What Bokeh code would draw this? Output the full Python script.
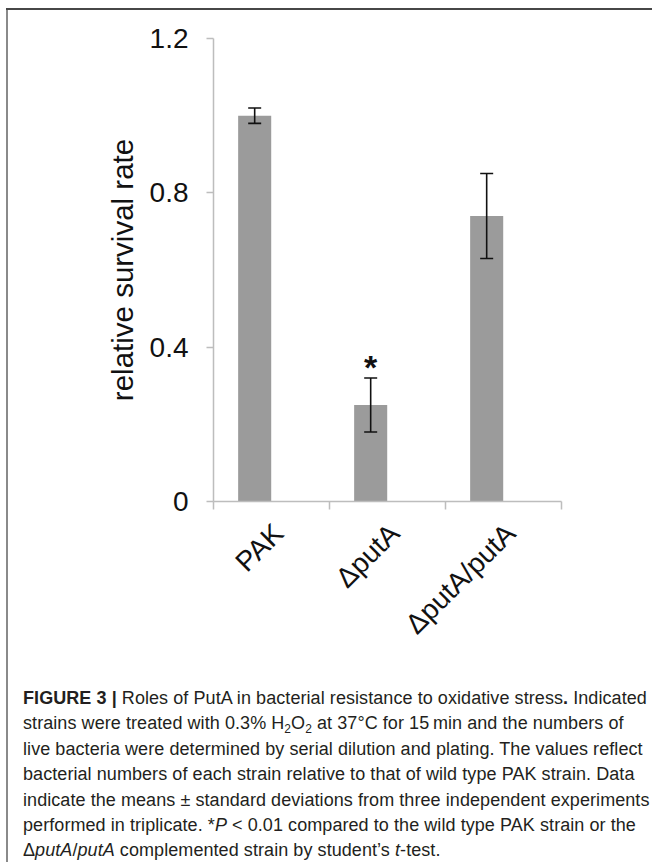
import numpy as np
from bokeh.plotting import figure
from bokeh.models import (Range1d, FixedTicker, Whisker, TeeHead, ColumnDataSource, Div,
                          LinearAxis)
from bokeh.layouts import column, row
from bokeh.core.properties import value
from bokeh.embed import file_html
from bokeh.resources import INLINE

# ---- data ----
categories = ["PAK", "\u0394putA", "\u0394putA/putA"]
survival = [1.00, 0.25, 0.74]
sd = [0.02, 0.07, 0.11]
significance = ["", "*", ""]
y_ticks = [0, 0.4, 0.8, 1.2]
y_tick_labels = ["0", "0.4", "0.8", "1.2"]

FONT = "Liberation Sans"
BAR_COLOR = "#9b9b9b"
AXIS_COLOR = "#bdbdbd"
TEXT_COLOR = "#111111"

n = len(categories)
idx = np.arange(n)
BAR_SHIFT = 0.355       # bars sit left of each category slot (as in the original)
BAR_WIDTH = 0.285
LABEL_SHIFT = 0.56      # slanted labels end a little right of the slot centre

src = ColumnDataSource(dict(
    x=idx + BAR_SHIFT,
    top=survival,
    upper=[v + e for v, e in zip(survival, sd)],
    lower=[v - e for v, e in zip(survival, sd)],
    sig=significance,
))

p = figure(width=644, height=676, x_range=Range1d(0, n), y_range=Range1d(0, 1.2),
           output_backend="svg", toolbar_location=None,
           min_border_left=205, min_border_right=91, min_border_top=28, min_border_bottom=185)
p.outline_line_color = None
p.grid.visible = False
p.background_fill_color = "white"
p.border_fill_color = "white"

p.vbar(x="x", top="top", width=BAR_WIDTH, source=src, fill_color=BAR_COLOR, line_color=None)

whisk = Whisker(base="x", upper="upper", lower="lower", source=src, level="overlay",
                line_color=TEXT_COLOR, line_width=1.6,
                upper_head=TeeHead(size=13, line_width=1.6, line_color=TEXT_COLOR),
                lower_head=TeeHead(size=13, line_width=1.6, line_color=TEXT_COLOR))
p.add_layout(whisk)

p.text(x="x", y="upper", text="sig", source=src, text_align="center",
       text_baseline="alphabetic", text_font=value(FONT), text_font_size="34px",
       text_font_style="bold", text_color=TEXT_COLOR, y_offset=-11)

# y axis
ya = p.yaxis[0]
ya.ticker = FixedTicker(ticks=y_ticks)
ya.major_label_overrides = {t: l for t, l in zip(y_ticks, y_tick_labels)}
ya.minor_tick_line_color = None
ya.major_tick_in = 0
ya.major_tick_out = 7
ya.major_tick_line_color = AXIS_COLOR
ya.major_tick_line_width = 1.5
ya.axis_line_color = AXIS_COLOR
ya.axis_line_width = 1.5
ya.major_label_standoff = 18
ya.major_label_text_font = FONT
ya.major_label_text_font_size = "28px"
ya.major_label_text_color = TEXT_COLOR
ya.axis_label = "relative survival rate"
ya.axis_label_text_font = FONT
ya.axis_label_text_font_size = "29.5px"
ya.axis_label_text_font_style = "normal"
ya.axis_label_text_color = TEXT_COLOR
ya.axis_label_standoff = 8

# x axis: category boundaries as ticks
xa = p.xaxis[0]
xa.ticker = FixedTicker(ticks=list(range(n + 1)))
xa.major_label_overrides = {i: "" for i in range(n + 1)}
xa.major_label_text_font_size = "1px"
xa.major_label_standoff = 0
xa.minor_tick_line_color = None
xa.major_tick_in = 0
xa.major_tick_out = 8
xa.major_tick_line_color = AXIS_COLOR
xa.major_tick_line_width = 1.5
xa.axis_line_color = AXIS_COLOR
xa.axis_line_width = 1.5

# second x axis carrying the slanted category names
label_pos = [float(i + LABEL_SHIFT) for i in idx]
xl = LinearAxis(ticker=FixedTicker(ticks=label_pos),
                major_label_overrides={t: c for t, c in zip(label_pos, categories)},
                major_label_orientation=np.pi / 4,
                major_label_standoff=19,
                major_label_text_font=FONT, major_label_text_font_size="28px",
                major_label_text_color=TEXT_COLOR,
                axis_line_color=None, major_tick_line_color=None, minor_tick_line_color=None,
                major_tick_in=0, major_tick_out=0)
p.add_layout(xl, "below")

caption_html = """
<div style="font-family:'Liberation Sans',Arial,sans-serif;font-size:18px;line-height:25.4px;
letter-spacing:0.07px;color:#231f20;white-space:nowrap;padding-left:15px;padding-top:0px;">
<b>FIGURE 3 |</b> Roles of PutA in bacterial resistance to oxidative stress<b>.</b> Indicated<br>
strains were treated with 0.3% H<span style="font-size:12px;line-height:0;position:relative;top:4px;">2</span>O<span style="font-size:12px;line-height:0;position:relative;top:4px;">2</span> at 37&deg;C for 15&#8201;min and the numbers of<br>
live bacteria were determined by serial dilution and plating. The values reflect<br>
bacterial numbers of each strain relative to that of wild type PAK strain. Data<br>
indicate the means &plusmn; standard deviations from three independent experiments<br>
performed in triplicate. *<i>P</i> &lt; 0.01 compared to the wild type PAK strain or the<br>
&Delta;<i>putA</i>/<i>putA</i> complemented strain by student&rsquo;s <i>t</i>-test.
</div>
"""
caption = Div(text=caption_html, width=644, height=176, margin=0)

top_space = Div(text="", width=652, height=8, margin=0)
left_space = Div(text="", width=6, height=854, margin=0)
border_top = Div(text="", width=646, height=2, margin=0, styles={"background-color": "#474747"})
border_left = Div(text="", width=2, height=852, margin=0, styles={"background-color": "#8a8a8a"})

inner = column(p, caption, spacing=0)
framed = column(border_top, row(border_left, inner, spacing=0), spacing=0)
page = column(top_space, row(left_space, framed, spacing=0), spacing=0)

open("out.html", "w").write(file_html(page, INLINE))
